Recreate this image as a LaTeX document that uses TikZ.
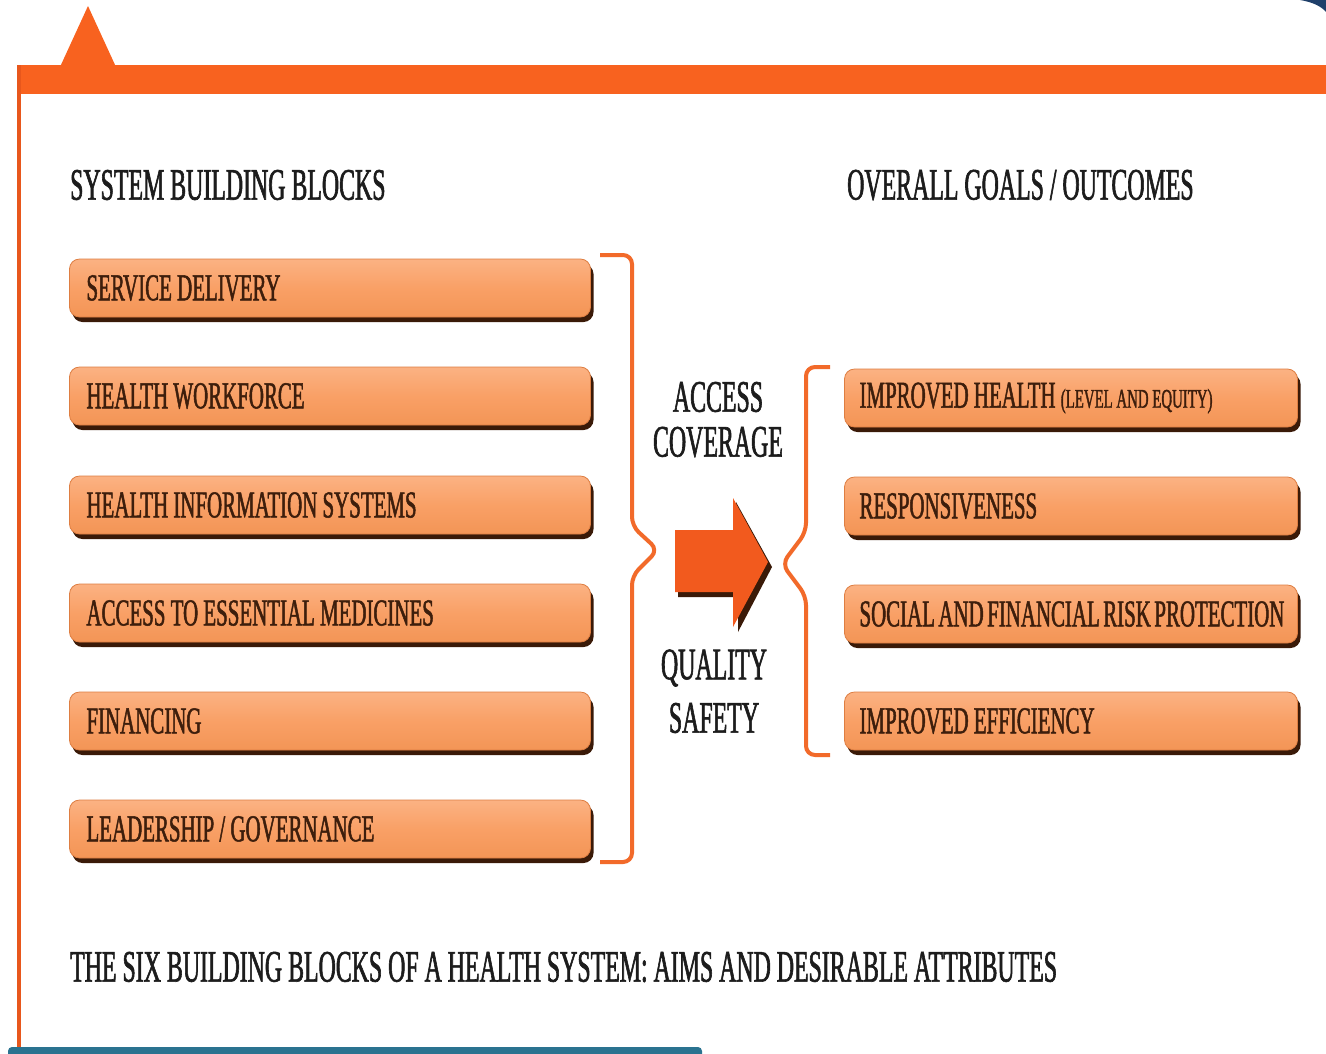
\documentclass[tikz,border=0pt]{standalone}
\usepackage{fontspec}
\newfontfamily\cond[FakeStretch=0.53,FakeBold=1.3]{Liberation Serif}
\newfontfamily\condb[FakeStretch=0.55,FakeBold=1.3]{Liberation Serif}
\usetikzlibrary{shadows}
\definecolor{obar}{HTML}{F8621F}
\definecolor{oline}{HTML}{E8571C}
\definecolor{brk}{HTML}{F26A2A}
\definecolor{btop}{HTML}{FBB283}
\definecolor{bmid}{HTML}{F9A066}
\definecolor{bbot}{HTML}{F39556}
\definecolor{bedge}{HTML}{DE7E42}
\definecolor{bshadow}{HTML}{3A1A08}
\definecolor{btext}{HTML}{3D1E0C}
\definecolor{ttext}{HTML}{1C1C1C}
\definecolor{arr}{HTML}{F25A1E}
\definecolor{navy}{HTML}{1F3F6A}
\definecolor{tealbar}{HTML}{2A7390}
\tikzset{
 blk/.style={draw=bedge, line width=0.8pt, rounded corners=10pt,
   top color=btop, bottom color=bbot, middle color=bmid,
   minimum height=58pt, inner xsep=15pt, inner ysep=0pt,
   font=\condb\fontsize{38}{40}\selectfont, text=btext,
   drop shadow={shadow xshift=3pt, shadow yshift=-5pt, opacity=1, fill=bshadow}},
 lblk/.style={blk, execute at begin node={\hbox to 491pt\bgroup\hskip2pt}, execute at end node={\hfil\egroup}},
 rblk/.style={blk, execute at begin node={\hbox to 423pt\bgroup\hskip0pt}, execute at end node={\hfil\egroup}},
 ttl/.style={inner sep=0pt, text=ttext, font=\cond\fontsize{45}{47}\selectfont},
 mid/.style={inner sep=0pt, text=ttext, font=\cond\fontsize{45}{47}\selectfont},
 bracket/.style={draw=brk, line width=4pt, rounded corners=9pt}
}
\begin{document}
\begin{tikzpicture}[x=1pt,y=-1pt]
\useasboundingbox (0,0) rectangle (1326,1053);
\fill[white] (0,0) rectangle (1326,1053);
% frame
\fill[obar] (18,65) rectangle (1326,94);
\fill[obar] (60,67) -- (88,6) -- (116,67) -- cycle;
\fill[oline] (17,65) rectangle (21,1053);
\fill[navy] (1300,0) .. controls (1312,2) and (1321,6) .. (1326,12) -- (1326,0) -- cycle;
\fill[tealbar, rounded corners=4pt] (8,1047) rectangle (702,1058);
% titles
\node[ttl, anchor=west] (t1) at (70,185) {SYSTEM BUILDING BLOCKS};
\node[ttl, anchor=west] (t2) at (847,185) {OVERALL GOALS / OUTCOMES};
% left blocks
\node[lblk] (b1) at (330,288) {SERVICE DELIVERY};
\node[lblk] (b2) at (330,396) {HEALTH WORKFORCE};
\node[lblk] (b3) at (330,505) {HEALTH INFORMATION SYSTEMS};
\node[lblk] (b4) at (330,613) {ACCESS TO ESSENTIAL MEDICINES};
\node[lblk] (b5) at (330,721) {FINANCING};
\node[lblk] (b6) at (330,829) {LEADERSHIP / GOVERNANCE};
% right blocks
\node[rblk] (g1) at (1071,398) {IMPROVED HEALTH {\fontsize{27}{29}\selectfont (LEVEL AND EQUITY)}};
\node[rblk] (g2) at (1071,506) {RESPONSIVENESS};
\node[rblk] (g3) at (1071,614) {SOCIAL AND FINANCIAL RISK PROTECTION};
\node[rblk] (g4) at (1071,721) {IMPROVED EFFICIENCY};
% brackets
\draw[bracket] (600,255) -- (632,255) -- (632,526) -- (658,550) -- (632,576) -- (632,862) -- (600,862);
\draw[bracket] (830,367) -- (806,367) -- (806,532) -- (782,564) -- (806,596) -- (806,755) -- (830,755);
% middle labels
\node[mid] (m1) at (718,397) {ACCESS};
\node[mid] (m2) at (718,442) {COVERAGE};
\node[mid] (m3) at (714,668) {QUALITY};
\node[mid] (m4) at (714,718) {SAFETY};
% arrow
\fill[bshadow] (678,535) -- (736,535) -- (736,502) -- (772,567) -- (738,632) -- (738,597) -- (678,597) -- cycle;
\fill[arr] (675,530) -- (733,530) -- (733,498) -- (768,562) -- (733,627) -- (733,592) -- (675,592) -- cycle;
% caption
\node[ttl, anchor=west] (cap) at (70,967) {THE SIX BUILDING BLOCKS OF A HEALTH SYSTEM: AIMS AND DESIRABLE ATTRIBUTES};
\end{tikzpicture}
\end{document}
